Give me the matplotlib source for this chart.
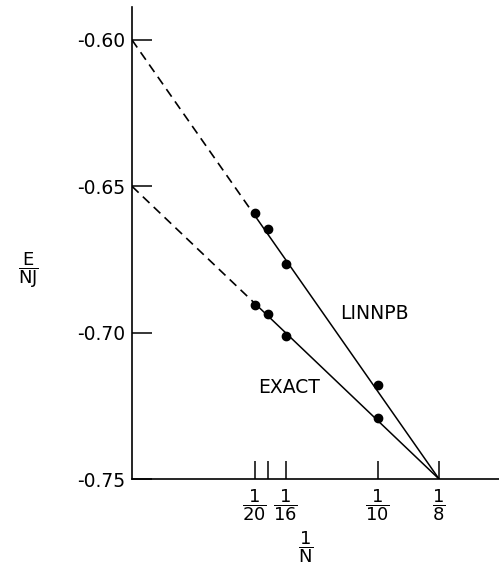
import matplotlib
matplotlib.use('Agg')
import matplotlib.pyplot as plt

plt.rcParams['font.family'] = 'DejaVu Sans'
plt.rcParams['mathtext.fontset'] = 'dejavusans'
plt.rcParams['axes.unicode_minus'] = False

# 1/N values of the computed points
inv_n = [1/20, 1/18, 1/16, 1/10]
linnpb = [-0.659, -0.6645, -0.6765, -0.718]
exact = [-0.6905, -0.6935, -0.701, -0.729]

# straight-line fits, from 1/N = 0 to 1/N = 1/8
fit_x = [0.0, 1/20, 1/8]
linnpb_fit = [-0.60, -0.66, -0.75]
exact_fit = [-0.65, -0.69, -0.75]

xticks = [1/20, 1/18, 1/16, 1/10, 1/8]
xlabels = [r'$\dfrac{1}{20}$', '', r'$\dfrac{1}{16}$', r'$\dfrac{1}{10}$', r'$\dfrac{1}{8}$']
yticks = [-0.60, -0.65, -0.70, -0.75]
ylabels = ['-0.60', '-0.65', '-0.70', '-0.75']

fig = plt.figure(figsize=(4.99, 5.73), dpi=100)
ax = fig.add_axes([0.2645, 0.164, 0.7355, 0.824])

for fy in (linnpb_fit, exact_fit):
    ax.plot(fit_x[:2], fy[:2], color='black', lw=1.2, ls=(0, (5.5, 3.5)))
    ax.plot(fit_x[1:], fy[1:], color='black', lw=1.1)

ax.plot(inv_n, linnpb, 'o', color='black', ms=6)
ax.plot(inv_n, exact, 'o', color='black', ms=6)

ax.text(0.0987, -0.6933, 'LINNPB', fontsize=13.5, ha='center', va='center')
ax.text(0.0641, -0.7189, 'EXACT', fontsize=13.5, ha='center', va='center')

ax.set_xlim(0, 0.1494)
ax.set_ylim(-0.75, -0.5887)

ax.spines['top'].set_visible(False)
ax.spines['right'].set_visible(False)
ax.spines['left'].set_linewidth(1.2)
ax.spines['bottom'].set_linewidth(1.2)

ax.set_xticks(xticks)
ax.set_xticklabels(xlabels, fontsize=13)
ax.set_yticks(yticks)
ax.set_yticklabels(ylabels, fontsize=13.5)
ax.tick_params(axis='x', direction='in', length=13, width=1.1, pad=6)
ax.tick_params(axis='y', direction='in', length=14.5, width=1.1, pad=5)

fig.text(0.056, 0.529, r'$\dfrac{\mathrm{E}}{\mathrm{NJ}}$', fontsize=13, ha='center', va='center')
fig.text(0.613, 0.045, r'$\dfrac{1}{\mathrm{N}}$', fontsize=13, ha='center', va='center')

fig.savefig('out.png', dpi=100)
